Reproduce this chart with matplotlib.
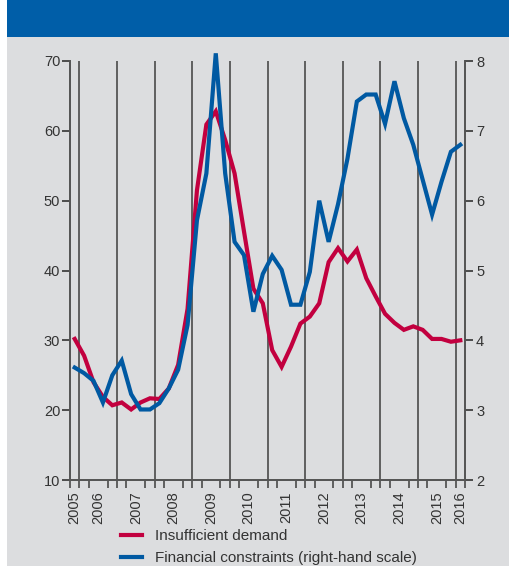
import numpy as np
import matplotlib
matplotlib.use("Agg")
import matplotlib.pyplot as plt
from matplotlib.patches import Rectangle

plt.rcParams['font.family'] = ['Liberation Sans', 'DejaVu Sans']

# quarterly data, 2005Q4 .. 2016Q1
start_year, start_q = 2005, 4
demand = [30.2, 27.8, 24.0, 21.9, 20.7, 21.1, 20.1, 21.1, 21.7, 21.6,
          23.1, 26.5, 34.5, 51.5, 60.9, 62.8, 58.7, 53.9, 45.6, 37.4,
          35.3, 28.6, 26.2, 29.1, 32.4, 33.4, 35.3, 41.2, 43.2, 41.3,
          43.0, 38.9, 36.3, 33.8, 32.5, 31.5, 32.0, 31.5, 30.2, 30.2,
          29.8, 30.0]
finance = [3.61, 3.53, 3.42, 3.11, 3.50, 3.71, 3.23, 3.01, 3.01, 3.10,
           3.31, 3.58, 4.22, 5.72, 6.39, 8.11, 6.39, 5.41, 5.22, 4.41,
           4.95, 5.21, 5.01, 4.51, 4.51, 4.98, 6.00, 5.41, 5.95, 6.60,
           7.42, 7.52, 7.52, 7.10, 7.71, 7.18, 6.80, 6.30, 5.80, 6.27,
           6.70, 6.80]
year_labels = ['2005', '2006', '2007', '2008', '2009', '2010', '2011',
               '2012', '2013', '2014', '2015', '2016']
left_ticks = [10, 20, 30, 40, 50, 60, 70]
right_ticks = [2, 3, 4, 5, 6, 7, 8]

red = '#C2003F'
blue = '#0059A2'
grey_txt = '#333333'

# quarter midpoints as decimal years
q = np.arange(len(demand)) + (start_q - 1)
t = start_year + q * 0.25 + 0.125

fig = plt.figure(figsize=(5.09, 5.66), dpi=100)
fig.patch.set_facecolor('white')
fig.patches.append(Rectangle((7/509, 0), 1, 1 - 37/566, transform=fig.transFigure,
                             facecolor='#DCDDDF', edgecolor='none', zorder=-10))
fig.patches.append(Rectangle((7/509, 1 - 37/566), 1, 37/566, transform=fig.transFigure,
                             facecolor='#005EA8', edgecolor='none', zorder=-10))

ax = fig.add_axes([70/509, 1 - 480/566, 395/509, 419/566])
ax.set_facecolor('none')
ax2 = ax.twinx()

xmin, xmax = t[0] - 0.125, t[-1] + 0.125
for yr in range(2006, 2017):
    ax.axvline(yr, color='#4a4a4a', lw=1.2, zorder=1)

ax.plot(t, demand, color=red, lw=3.0, solid_joinstyle='miter', zorder=3,
        label='Insufficient demand')
ax2.plot(t, finance, color=blue, lw=3.0, solid_joinstyle='miter', zorder=3,
         clip_on=False, label='Financial constraints (right-hand scale)')

ax.set_xlim(xmin, xmax)
ax.set_ylim(10, 70)
ax2.set_ylim(2, 8)
ax.set_yticks(left_ticks)
ax2.set_yticks(right_ticks)

label_pos = [t[0]] + [y + 0.5 for y in range(2006, 2016)] + [t[-1]]
ax.set_xticks(label_pos)
ax.set_xticklabels(year_labels, rotation=90)
ax.set_xticks(np.arange(xmin, xmax + 0.01, 0.25), minor=True)
ax.tick_params(axis='x', which='major', length=0, pad=8, labelsize=10.5, labelcolor=grey_txt)
ax.tick_params(axis='x', which='minor', length=6, width=1.2, color='#4a4a4a', direction='out')
ax.tick_params(axis='y', length=6, width=1.2, color='#333333', pad=1,
               labelsize=10.5, labelcolor=grey_txt)
ax2.tick_params(axis='y', length=6, width=1.2, color='#333333', pad=2,
                labelsize=10.5, labelcolor=grey_txt)

for a in (ax, ax2):
    a.spines['top'].set_visible(False)
    for s in ('left', 'right', 'bottom'):
        a.spines[s].set_color('#555555')
        a.spines[s].set_linewidth(1.3)

h1, l1 = ax.get_legend_handles_labels()
h2, l2 = ax2.get_legend_handles_labels()
fig.legend(h1 + h2, l1 + l2, loc='upper left', bbox_to_anchor=(121/509, 1 - 529/566),
           frameon=False, fontsize=11, handlelength=1.4, handletextpad=0.85,
           labelspacing=0.55, borderaxespad=0, borderpad=0, labelcolor=grey_txt)

fig.savefig('out.png', dpi=100)
